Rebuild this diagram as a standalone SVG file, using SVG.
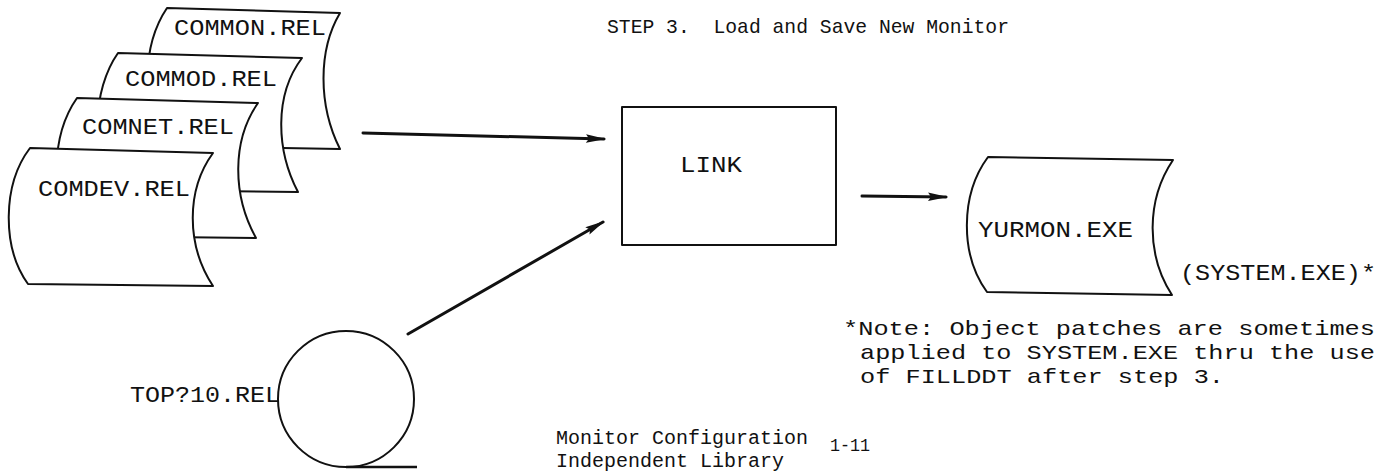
<svg xmlns="http://www.w3.org/2000/svg" width="1379" height="472" viewBox="0 0 1379 472">
  <style>
    .shape { fill: #fff; stroke: #111; stroke-width: 2; stroke-linejoin: round; }
    .conn { fill: none; stroke: #111; stroke-width: 3; stroke-linecap: round; }
    .t { font-family: "Liberation Mono", "DejaVu Sans Mono", monospace; fill: #111; }
    .lbl { font-size: 22px; }
    .txt { font-size: 20px; }
    .note { font-size: 21px; }
  </style>
  <defs>
    <marker id="ah" viewBox="0 0 20 10" refX="18" refY="5" markerWidth="20" markerHeight="10" markerUnits="userSpaceOnUse" orient="auto">
      <path d="M0,0.8 L20,5 L0,9.2 L3,5 Z" fill="#111"/>
    </marker>
  </defs>

  <rect width="1379" height="472" fill="#fff"/>

  <text class="t" x="607" y="33" font-size="21" textLength="402" lengthAdjust="spacingAndGlyphs" xml:space="preserve">STEP 3.  Load and Save New Monitor</text>

  <!-- stacked source files, back to front -->
  <g id="common">
    <path class="shape" d="M167,8 L340,13 C318,50 318,105 340,149 L165,146 C140,110 142,45 167,8 Z"/>
    <text class="t lbl" x="174" y="35" textLength="152" lengthAdjust="spacingAndGlyphs">COMMON.REL</text>
  </g>
  <g id="commod">
    <path class="shape" d="M118,53 L302,58 C274,95 276,150 298,192 L116,190 C90,155 92,90 118,53 Z"/>
    <text class="t lbl" x="125" y="86" textLength="152" lengthAdjust="spacingAndGlyphs">COMMOD.REL</text>
  </g>
  <g id="comnet">
    <path class="shape" d="M77,98 L258,103 C232,140 232,195 256,238 L75,236 C49,200 51,135 77,98 Z"/>
    <text class="t lbl" x="82" y="134" textLength="152" lengthAdjust="spacingAndGlyphs">COMNET.REL</text>
  </g>
  <g id="comdev">
    <path class="shape" d="M30,148 L213,153 C186,190 186,245 213,286 L28,284 C2,248 2,185 30,148 Z"/>
    <text class="t lbl" x="38" y="196" textLength="152" lengthAdjust="spacingAndGlyphs">COMDEV.REL</text>
  </g>

  <!-- library file -->
  <g id="top10">
    <circle class="shape" cx="346" cy="399" r="68"/>
    <line x1="346" y1="467" x2="417" y2="467" stroke="#111" stroke-width="2.5"/>
    <text class="t lbl" x="130" y="402" textLength="150" lengthAdjust="spacingAndGlyphs">TOP?10.REL</text>
    <text class="t txt" x="556" y="444" textLength="252" lengthAdjust="spacingAndGlyphs">Monitor Configuration</text>
    <text class="t txt" x="556" y="467" textLength="228" lengthAdjust="spacingAndGlyphs">Independent Library</text>
  </g>

  <g id="link">
    <rect class="shape" x="622" y="107" width="214" height="138"/>
    <text class="t lbl" x="680" y="172" textLength="62" lengthAdjust="spacingAndGlyphs">LINK</text>
  </g>

  <g id="yurmon">
    <path class="shape" d="M988,157 L1173,160 C1146,200 1146,255 1172,295 L987,292 C960,255 960,195 988,157 Z"/>
    <text class="t lbl" x="978" y="237" textLength="155" lengthAdjust="spacingAndGlyphs">YURMON.EXE</text>
    <text class="t lbl" x="1180" y="280" textLength="196" lengthAdjust="spacingAndGlyphs">(SYSTEM.EXE)*</text>
  </g>

  <g id="connectors">
    <line class="conn" x1="363" y1="133" x2="604" y2="139" marker-end="url(#ah)"/>
    <line class="conn" x1="408" y1="334" x2="603" y2="222" marker-end="url(#ah)"/>
    <line class="conn" x1="862" y1="196" x2="946" y2="197" marker-end="url(#ah)"/>
  </g>

  <g id="note">
    <text class="t note" x="843" y="335" textLength="532" lengthAdjust="spacingAndGlyphs">*Note: Object patches are sometimes</text>
    <text class="t note" x="860" y="359" textLength="515" lengthAdjust="spacingAndGlyphs">applied to SYSTEM.EXE thru the use</text>
    <text class="t note" x="860" y="383" textLength="364" lengthAdjust="spacingAndGlyphs">of FILLDDT after step 3.</text>
  </g>

  <text class="t" x="830" y="451" font-size="19" textLength="40" lengthAdjust="spacingAndGlyphs">1-11</text>
</svg>
